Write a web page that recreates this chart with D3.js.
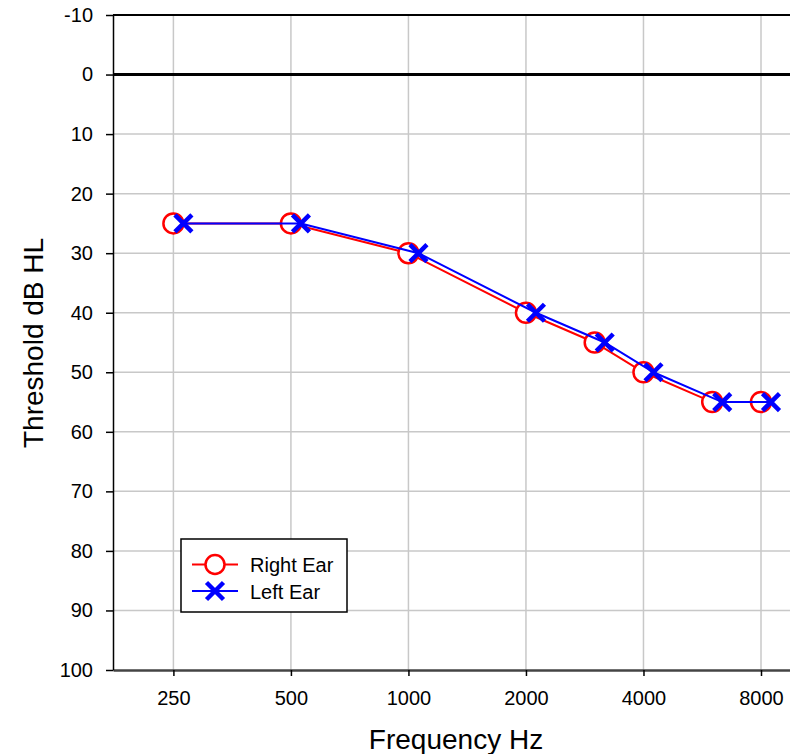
<!DOCTYPE html>
<html>
<head>
<meta charset="utf-8">
<script src="https://cdn.jsdelivr.net/npm/d3@7"></script>
<style>
  html, body { margin: 0; padding: 0; background: #fff; }
  svg { display: block; font-family: "Liberation Sans", Arial, sans-serif; }
</style>
</head>
<body>
<svg id="chart" width="790" height="754"></svg>
<script>
// ---- data ----
const frequencies = [250, 500, 1000, 2000, 3000, 4000, 6000, 8000];
const rightEar = [25, 25, 30, 40, 45, 50, 55, 55];
const leftEar  = [25, 25, 30, 40, 45, 50, 55, 55];
const xTickValues = [250, 500, 1000, 2000, 4000, 8000];
const yTickValues = [-10, 0, 10, 20, 30, 40, 50, 60, 70, 80, 90, 100];
const seriesNames = ["Right Ear", "Left Ear"];

// ---- layout ----
const svg = d3.select("#chart");
const FONT = "Liberation Sans, Arial, sans-serif";
const plotLeft = 113, plotRight = 790, plotTop = 15, plotBottom = 670;
const leftOffset = 10; // left-ear markers drawn slightly to the right

const xBase = d3.scaleLog().domain([250, 8000]).range([173.4, 761]);
const x = d3.scaleLog()
  .domain([xBase.invert(plotLeft), xBase.invert(plotRight)])
  .range([plotLeft, plotRight]);
const y = d3.scaleLinear().domain([-10, 100]).range([plotTop, plotBottom]);

// grid
const grid = svg.append("g");
grid.selectAll(".vg").data(xTickValues).enter().append("line")
  .attr("x1", d => x(d)).attr("x2", d => x(d))
  .attr("y1", plotTop).attr("y2", plotBottom)
  .attr("stroke", "#c8c8c8").attr("stroke-width", 1.5);
grid.selectAll(".hg").data(yTickValues.filter(v => v > 0 && v < 100)).enter().append("line")
  .attr("x1", plotLeft).attr("x2", plotRight)
  .attr("y1", d => y(d)).attr("y2", d => y(d))
  .attr("stroke", "#c8c8c8").attr("stroke-width", 1.5);

// top border
svg.append("line").attr("x1", plotLeft).attr("x2", plotRight)
  .attr("y1", y(-10)).attr("y2", y(-10))
  .attr("stroke", "#000").attr("stroke-width", 2);
// zero line
svg.append("line").attr("x1", plotLeft).attr("x2", plotRight)
  .attr("y1", y(0)).attr("y2", y(0))
  .attr("stroke", "#000").attr("stroke-width", 3);

// axes
const xAxis = d3.axisBottom(x).tickValues(xTickValues).tickFormat(d3.format("d"))
  .tickSize(6).tickSizeOuter(0).tickPadding(15);
const gx = svg.append("g").attr("transform", `translate(0,${plotBottom})`).call(xAxis);
gx.attr("font-size", 20).attr("font-family", FONT);
gx.select(".domain").attr("stroke", "#444").attr("stroke-width", 2.5);
gx.selectAll(".tick line").attr("stroke", "#000").attr("stroke-width", 1.5);
gx.selectAll("text").attr("font-size", 20).attr("fill", "#000").attr("font-family", FONT);

const yAxis = d3.axisLeft(y).tickValues(yTickValues).tickFormat(d3.format("d"))
  .tickSize(7).tickSizeOuter(0).tickPadding(13);
const gy = svg.append("g").attr("transform", `translate(${plotLeft},0)`).call(yAxis);
gy.attr("font-size", 20).attr("font-family", FONT);
gy.select(".domain").attr("stroke", "#000").attr("stroke-width", 1.5);
gy.selectAll(".tick line").attr("stroke", "#000").attr("stroke-width", 1.5);
gy.selectAll("text").attr("font-size", 20).attr("fill", "#000").attr("font-family", FONT)
  .text(d => d < 0 ? "-" + Math.abs(d) : String(d));

// axis titles
svg.append("text").attr("x", 456).attr("y", 749).attr("text-anchor", "middle")
  .attr("font-size", 28).attr("font-family", FONT).text("Frequency Hz");
svg.append("text").attr("transform", `translate(43,343) rotate(-90)`)
  .attr("text-anchor", "middle").attr("font-size", 28).attr("font-family", FONT)
  .text("Threshold dB HL");

// series
const line = d3.line().x(d => x(d[0])).y(d => y(d[1]));
const rightData = frequencies.map((f, i) => [f, rightEar[i]]);
const leftData = frequencies.map((f, i) => [f, leftEar[i]]);

const gR = svg.append("g");
gR.append("path").datum(rightData).attr("d", line)
  .attr("fill", "none").attr("stroke", "#ff0000").attr("stroke-width", 2);
gR.selectAll("circle").data(rightData).enter().append("circle")
  .attr("cx", d => x(d[0])).attr("cy", d => y(d[1])).attr("r", 10)
  .attr("fill", "#fff").attr("stroke", "#ff0000").attr("stroke-width", 2.5);

const xMark = (s) => `M${-s},${-s}L${s},${s}M${-s},${s}L${s},${-s}`;
const gL = svg.append("g").attr("transform", `translate(${leftOffset},0)`);
gL.append("path").datum(leftData).attr("d", line)
  .attr("fill", "none").attr("stroke", "#0000ff").attr("stroke-width", 2);
gL.selectAll(".xm").data(leftData).enter().append("path")
  .attr("transform", d => `translate(${x(d[0])},${y(d[1])})`)
  .attr("d", xMark(8.5))
  .attr("stroke", "#0000ff").attr("stroke-width", 4.5).attr("fill", "none");

// legend
const lg = svg.append("g");
lg.append("rect").attr("x", 181).attr("y", 539).attr("width", 166).attr("height", 73)
  .attr("fill", "#fff").attr("stroke", "#000").attr("stroke-width", 1.5);
const legendColors = ["#ff0000", "#0000ff"];
seriesNames.forEach((name, i) => {
  const cy = 564.5 + i * 26.5;
  lg.append("line").attr("x1", 192).attr("x2", 238).attr("y1", cy).attr("y2", cy)
    .attr("stroke", legendColors[i]).attr("stroke-width", 2);
  if (i === 0) {
    lg.append("circle").attr("cx", 215).attr("cy", cy).attr("r", 9.5)
      .attr("fill", "#fff").attr("stroke", "#ff0000").attr("stroke-width", 2.5);
  } else {
    lg.append("path").attr("transform", `translate(215,${cy})`).attr("d", xMark(8.5))
      .attr("stroke", "#0000ff").attr("stroke-width", 4.5).attr("fill", "none");
  }
  lg.append("text").attr("x", 250).attr("y", cy + 7.5).attr("font-size", 20)
    .attr("font-family", FONT).attr("fill", "#000").text(name);
});
</script>
</body>
</html>
